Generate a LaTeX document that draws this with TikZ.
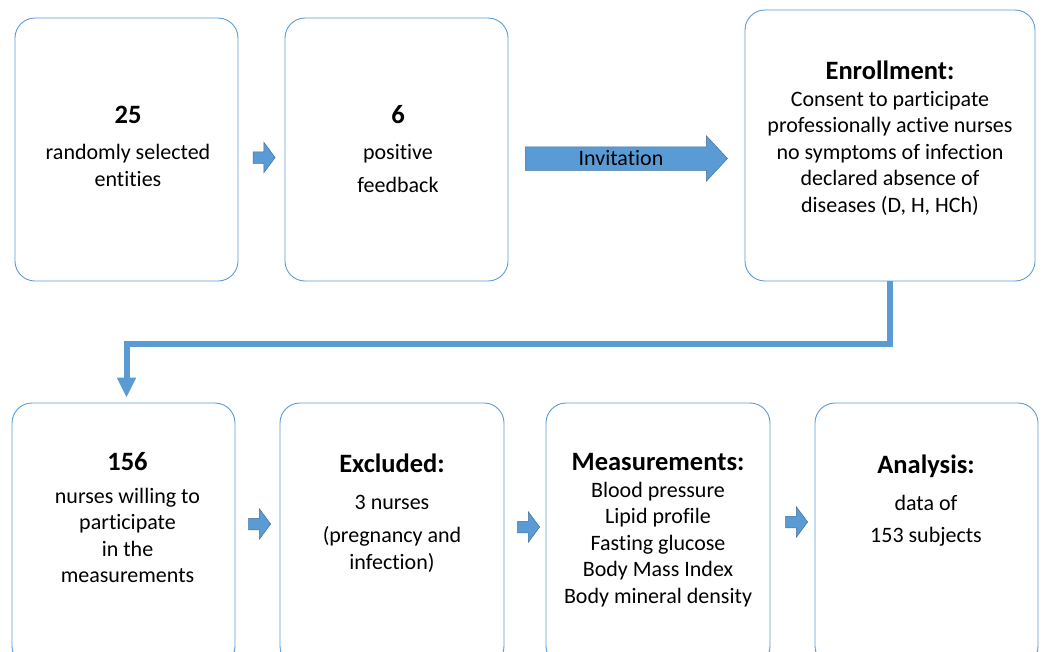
\documentclass[tikz,border=0pt]{standalone}
\usepackage{fontspec}
\setmainfont{Carlito}[Ligatures=NoCommon]
\usepackage{tikz}
\usetikzlibrary{shapes.arrows, arrows.meta, positioning, calc}
\definecolor{flowblue}{HTML}{5B9BD5}
\definecolor{flowedge}{HTML}{41719C}
\newcommand{\hd}[1]{{\fontsize{26.5}{26.5}\selectfont\bfseries #1}}

\begin{document}
\begin{tikzpicture}[x=1pt, y=-1pt,
    stage/.style={draw=flowblue, line width=0.9pt, rounded corners=20pt, fill=white, minimum height=263pt},
    txt/.style={align=center, inner sep=0pt, font=\fontsize{22}{26.5}\selectfont},
    smallarrow/.style={single arrow, draw=flowedge, line width=0.5pt, fill=flowblue, inner xsep=0pt, inner ysep=5.5pt,
      minimum height=22pt, single arrow head extend=9.5pt, single arrow tip angle=107},
    bigarrow/.style={single arrow, draw=flowedge, line width=0.5pt, fill=flowblue, inner xsep=0pt, inner ysep=11.5pt,
      minimum height=202pt, single arrow head extend=11pt, single arrow tip angle=94}]
  \clip (0,0) rectangle (1042,651);
  \useasboundingbox (0,0) rectangle (1042,651);

  % Top row
  \node[stage, minimum width=223pt] (sel) at (126.5,149.5) {};
  \node[stage, minimum width=223pt] (pos) at (396.5,149.5) {};
  \node[stage, minimum width=290pt, minimum height=271pt] (enr) at (890,145.5) {};

  \node[txt] (seltxt) at (128,146) {\hd{25}\\[10pt] randomly selected\\ entities};
  \node[txt] (postxt) at (398,149) {\hd{6}\\[10pt] positive\\[6pt] feedback};
  \node[txt] (enrtxt) at (890,138) {\hd{Enrollment:}\\ Consent to participate\\ professionally active nurses\\
    no symptoms of infection\\ declared absence of\\ diseases (D, H, HCh)};

  \node[smallarrow] (a1) at (262,157.5) {};
  \node[bigarrow] (inv) at (621,158.5) {};
  \node[txt] (invtxt) at (621,158) {Invitation};

  % Bottom row
  \node[stage, minimum width=223pt] (will) at (123.5,534.5) {};
  \node[stage, minimum width=224pt] (exc) at (392,534.5) {};
  \node[stage, minimum width=224pt] (meas) at (658,534.5) {};
  \node[stage, minimum width=223pt] (ana) at (926.5,534.5) {};

  \node[txt] (willtxt) at (127.5,518) {\hd{156}\\[6pt] nurses willing to\\ participate\\ in the\\ measurements};
  \node[txt] (exctxt) at (392,513) {\hd{Excluded:}\\[10pt] 3 nurses\\[7pt] (pregnancy and\\ infection)};
  \node[txt] (meastxt) at (658,530) {\hd{Measurements:}\\ Blood pressure\\ Lipid profile\\ Fasting glucose\\
    Body Mass Index\\ Body mineral density};
  \node[txt] (anatxt) at (926,501) {\hd{Analysis:}\\[10pt] data of\\[6pt] 153 subjects};

  \node[smallarrow] (a2) at (257.5,524) {};
  \node[smallarrow] (a3) at (526.5,527) {};
  \node[smallarrow] (a4) at (794.5,522) {};

  % Elbow connector
  \draw[flowblue, line width=6pt, shorten >=5pt, -{Triangle[length=20pt, width=18pt]}]
    (enr.south) -- ++(0,63) -| ([xshift=3pt]will.north);
\end{tikzpicture}
\end{document}
